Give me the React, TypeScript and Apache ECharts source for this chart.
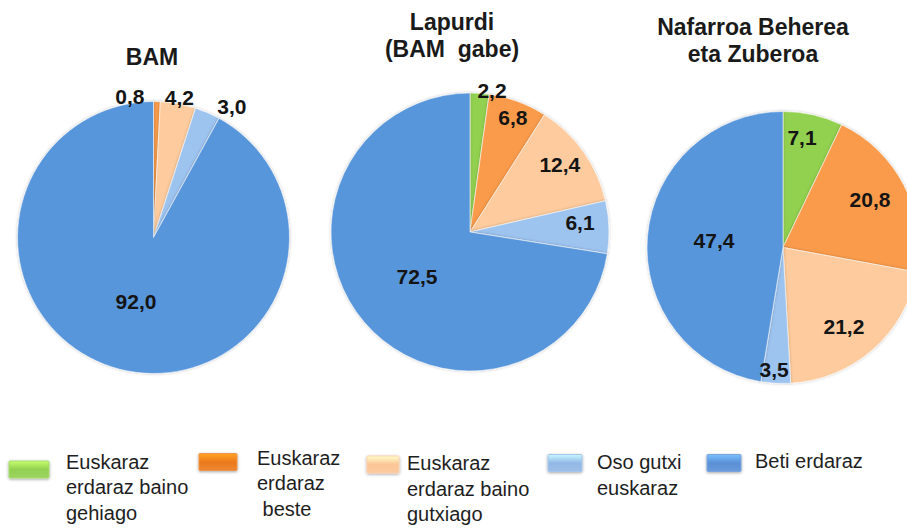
import React, { useEffect, useRef } from "react";
import * as echarts from "echarts";

// ---- data ----
const categories = [
  "Euskaraz erdaraz baino gehiago",
  "Euskaraz erdaraz beste",
  "Euskaraz erdaraz baino gutxiago",
  "Oso gutxi euskaraz",
  "Beti erdaraz",
];
const legendLabels = [
  "Euskaraz\nerdaraz baino\ngehiago",
  "Euskaraz\nerdaraz\n beste",
  "Euskaraz\nerdaraz baino\ngutxiago",
  "Oso gutxi\neuskaraz",
  "Beti erdaraz",
];
const regionTitles = ["BAM", "Lapurdi\n(BAM  gabe)", "Nafarroa Beherea\neta Zuberoa"];
const bamValues = [0, 0.8, 4.2, 3.0, 92.0];
const lapurdiValues = [2.2, 6.8, 12.4, 6.1, 72.5];
const nafarroaValues = [7.1, 20.8, 21.2, 3.5, 47.4];
const seriesValues = [bamValues, lapurdiValues, nafarroaValues];

// ---- styles / layout ----
const sliceColors = ["#92d050", "#fa9b4b", "#fdcb9d", "#9dc3ef", "#5896dc"];
const legendColors = ["#92d050", "#ec7a1c", "#fbc596", "#93b8e6", "#5a8fd6"];
const pieCenters = [
  [153.5, 237.5],
  [470, 232],
  [783, 247.5],
];
const pieRadii = [136, 139, 136];
// label placement: radial fraction and angular nudge (deg) per slice
const labelRadius = [
  [1.05, 1.048, 1.05, 1.12, 0.49],
  [1.027, 0.883, 0.81, 0.794, 0.496],
  [0.824, 0.732, 0.731, 0.903, 0.51],
];
const labelNudge = [
  [0, -11, 0, 7.6, 0.8],
  [4.9, 0.3, -1.8, -2.7, 0.8],
  [-3, -2.1, 3.6, 1.1, 1.5],
];
const titleLayout = [
  { x: 152, top: 43 },
  { x: 452, top: 8 },
  { x: 753, top: 13 },
];
const legendLayout = [
  { ix: 9, iy: 461, iw: 40, tx: 66, ty: 449 },
  { ix: 199, iy: 453.5, iw: 38, tx: 257, ty: 445 },
  { ix: 367, iy: 456, iw: 32, tx: 407, ty: 450.5 },
  { ix: 548, iy: 454.5, iw: 34, tx: 597, ty: 449.5 },
  { ix: 707, iy: 454.5, iw: 34, tx: 755, ty: 448.5 },
];

const FONT = "'Liberation Sans', Arial, sans-serif";

function fmt(v: number) {
  return v.toFixed(1).replace(".", ",");
}

export default function App() {
  const ref = useRef<HTMLDivElement>(null);

  useEffect(() => {
    if (!ref.current) return;
    const chart = echarts.init(ref.current, undefined, { renderer: "svg" });

    const series = seriesValues.map((vals, s) => {
      const total = vals.reduce((a, b) => a + b, 0);
      return {
        type: "pie",
        name: regionTitles[s],
        center: pieCenters[s],
        radius: pieRadii[s],
        startAngle: 90,
        clockwise: true,
        silent: true,
        avoidLabelOverlap: false,
        itemStyle: {
          borderColor: "rgba(255,255,255,0.55)",
          borderWidth: 1,
          shadowBlur: 3,
          shadowColor: "rgba(0,0,0,0.25)",
        },
        label: {
          show: true,
          position: "inside",
          formatter: (p: any) => fmt(p.value),
          fontFamily: FONT,
          fontSize: 21,
          fontWeight: "bold",
          color: "#141414",
        },
        labelLine: { show: false },
        labelLayout: (p: any) => {
          const i = p.dataIndex;
          let before = 0;
          for (let k = 0; k < i; k++) before += vals[k];
          const mid = ((before + vals[i] / 2) / total) * 360 + labelNudge[s][i];
          const a = (mid * Math.PI) / 180;
          const rr = labelRadius[s][i] * pieRadii[s];
          return {
            x: pieCenters[s][0] + rr * Math.sin(a),
            y: pieCenters[s][1] - rr * Math.cos(a),
            align: "center",
            verticalAlign: "middle",
          };
        },
        data: vals.map((v, i) => ({
          name: categories[i],
          value: v,
          itemStyle: { color: sliceColors[i] },
          label: { show: v > 0 },
        })),
      };
    });

    const legendGraphics: any[] = [];
    legendLayout.forEach((l, i) => {
      legendGraphics.push({
        type: "rect",
        shape: { x: l.ix, y: l.iy, width: l.iw, height: 17, r: 1 },
        style: {
          fill: new echarts.graphic.LinearGradient(0, 0, 0, 1, [
            { offset: 0, color: echarts.color.lift(legendColors[i], -0.35) },
            { offset: 0.5, color: legendColors[i] },
            { offset: 1, color: echarts.color.lift(legendColors[i], 0.1) },
          ]),
          stroke: echarts.color.lift(legendColors[i], 0.2),
          lineWidth: 1,
          shadowBlur: 3,
          shadowOffsetY: 1,
          shadowColor: "rgba(0,0,0,0.35)",
        },
      });
      legendGraphics.push({
        type: "text",
        x: l.tx,
        y: l.ty,
        style: {
          text: legendLabels[i],
          font: `20px ${FONT}`,
          fill: "#1e1e1e",
          lineHeight: 25.5,
          align: "left",
          verticalAlign: "top",
        },
      });
    });

    chart.setOption({
      animation: false,
      backgroundColor: "#ffffff",
      title: regionTitles.map((t, s) => ({
        text: t,
        left: titleLayout[s].x,
        top: titleLayout[s].top,
        textAlign: "center",
        textVerticalAlign: "top",
        padding: 0,
        textStyle: {
          fontFamily: FONT,
          fontSize: 23,
          fontWeight: "bold",
          color: "#1a1a1a",
          lineHeight: 27,
        },
      })),
      series,
      graphic: legendGraphics,
    });

    return () => chart.dispose();
  }, []);

  return (
    <div
      ref={ref}
      style={{ position: "fixed", left: 0, top: 0, width: 907, height: 529, background: "#fff" }}
    />
  );
}
